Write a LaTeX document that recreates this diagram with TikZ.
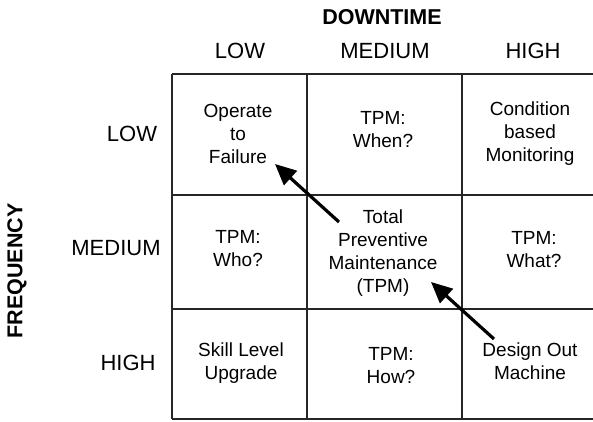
\documentclass[tikz,border=0pt]{standalone}
\usepackage{fontspec}
\setmainfont{Liberation Sans}
\usetikzlibrary{arrows.meta}
\begin{document}
\begin{tikzpicture}[x=1pt,y=-1pt,
  grid/.style={line width=1.2pt,black!85},
  cell/.style={align=center,inner sep=0pt,font=\fontsize{19}{23}\selectfont},
  head/.style={inner sep=0pt,font=\fontsize{22}{26}\selectfont},
  title/.style={inner sep=0pt,font=\fontsize{21.5}{26}\selectfont\bfseries},
  bigarrow/.style={line width=3.2pt,-{Triangle[length=21pt,width=19pt]}}]
\useasboundingbox (0,0) rectangle (593,422);
% grid
\draw[grid] (172,74) -- (593,74) (172,195) -- (593,195) (172,309) -- (593,309) (172,419) -- (593,419);
\draw[grid] (172,74) -- (172,419) (307,74) -- (307,419) (462,74) -- (462,419);
% titles
\node[title] (down) at (382,17) {DOWNTIME};
\node[title,rotate=90] (freq) at (17,271) {FREQUENCY};
% column heads
\node[head] (clow) at (240,51) {LOW};
\node[head] (cmed) at (385,51) {MEDIUM};
\node[head] (chigh) at (533,51) {HIGH};
% row heads
\node[head] (rlow) at (132,134) {LOW};
\node[head] (rmed) at (116,248) {MEDIUM};
\node[head] (rhigh) at (128,363) {HIGH};
% cells
\node[cell] (c11) at (238,134) {Operate\\to\\Failure};
\node[cell] (c12) at (383,130) {TPM:\\When?};
\node[cell] (c13) at (530,134) {Condition\\based\\Monitoring};
\node[cell] (c21) at (238,249) {TPM:\\Who?};
\node[cell] (c22) at (383,253) {Total\\Preventive\\Maintenance\\(TPM)};
\node[cell] (c23) at (534,250) {TPM:\\What?};
\node[cell] (c31) at (241,363) {Skill Level\\Upgrade};
\node[cell] (c32) at (391,366) {TPM:\\How?};
\node[cell] (c33) at (530,361) {Design Out\\Machine};
% arrows
\coordinate (a1s) at (339,222);
\coordinate (a1e) at (275,164);
\coordinate (a2s) at (494,339);
\coordinate (a2e) at (431,282);
\draw[bigarrow] (a1s) -- (a1e);
\draw[bigarrow] (a2s) -- (a2e);
\end{tikzpicture}
\end{document}
